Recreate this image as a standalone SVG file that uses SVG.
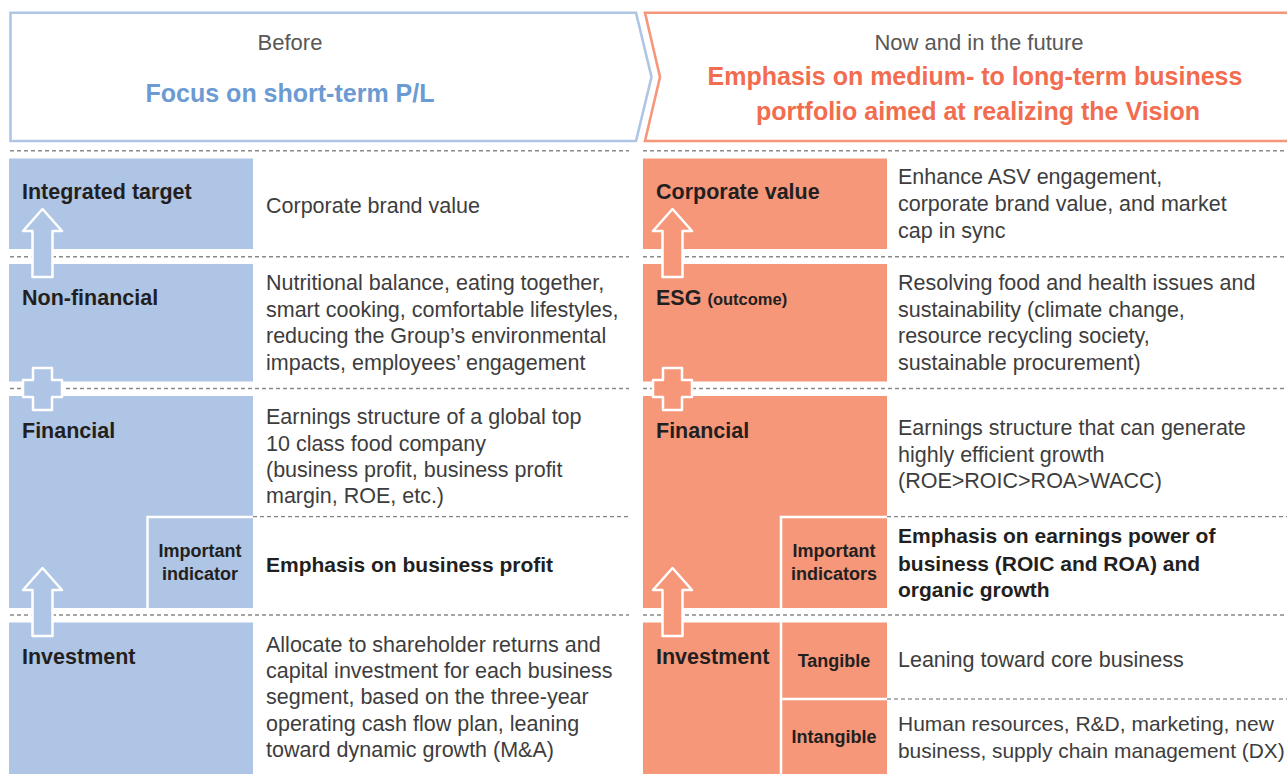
<svg xmlns="http://www.w3.org/2000/svg" width="1287" height="774" viewBox="0 0 1287 774">
<style>
text{font-family:"Liberation Sans",Arial,sans-serif}
.b{fill:#aec5e5}
.o{fill:#f6977a}
.lbl{font-size:21.5px;font-weight:bold;fill:#231f20}
.sm{font-size:18px;font-weight:bold;fill:#231f20;text-anchor:middle}
.body{font-size:21.5px;fill:#3d3d3d}
.bold{font-size:21px;font-weight:bold;fill:#231f20}
.sep{stroke:#8a8a8a;stroke-width:1.4;stroke-dasharray:4 3;fill:none}
.isep{stroke:#666;stroke-width:1;stroke-dasharray:4 3;fill:none}
.wl{stroke:#fff;stroke-width:2.5;fill:none}
.arr{stroke:#fff;stroke-width:2.5;stroke-linejoin:round}
</style>
<rect width="1287" height="774" fill="#fff"/>

<g id="header-before">
<polygon points="10.5,12.7 636,12.7 651.5,77 636,141 10.5,141" fill="#fff" stroke="#aec5e5" stroke-width="2.6"/>
<text x="290" y="50" text-anchor="middle" style="font-size:22px;fill:#595757">Before</text>
<text x="290" y="102" text-anchor="middle" style="font-size:25px;font-weight:bold;fill:#6b9bd2">Focus on short-term P/L</text>
</g>
<g id="header-now">
<polygon points="645,12.7 1295,12.7 1295,141 645,141 660,77" fill="#fff" stroke="#f6967a" stroke-width="2.6"/>
<text x="979" y="50" text-anchor="middle" style="font-size:22px;fill:#595757">Now and in the future</text>
<text x="975" y="85" text-anchor="middle" style="font-size:25px;font-weight:bold;fill:#f26c4f">Emphasis on medium- to long-term business</text>
<text x="978" y="120" text-anchor="middle" style="font-size:25px;font-weight:bold;fill:#f26c4f">portfolio aimed at realizing the Vision</text>
</g>

<g id="separators">
<path class="sep" d="M10 150.7H629M643 150.7H1287M10 256.7H629M643 256.7H1287M10 388.5H629M643 388.5H1287M10 615H629M643 615H1287"/>
<path class="isep" d="M253 516.7H629M887 516.7H1287M887 699H1287"/>
</g>

<g id="before-integrated">
<rect class="b" x="9" y="158.5" width="244" height="90.5"/>
<text class="lbl" x="22" y="199">Integrated target</text>
<text class="body" x="266" y="213">Corporate brand value</text>
</g>
<g id="before-nonfinancial">
<rect class="b" x="9" y="264" width="244" height="117.5"/>
<text class="lbl" x="22" y="305">Non-financial</text>
<text class="body" x="266" y="290">Nutritional balance, eating together,</text>
<text class="body" x="266" y="316.5">smart cooking, comfortable lifestyles,</text>
<text class="body" x="266" y="343">reducing the Group’s environmental</text>
<text class="body" x="266" y="369.5">impacts, employees’ engagement</text>
</g>
<g id="before-financial">
<rect class="b" x="9" y="396" width="244" height="212"/>
<path class="wl" d="M147.5 608V517H253"/>
<text class="lbl" x="22" y="438">Financial</text>
<text class="body" x="266" y="424.3">Earnings structure of a global top</text>
<text class="body" x="266" y="450.7">10 class food company</text>
<text class="body" x="266" y="476.7">(business profit, business profit</text>
<text class="body" x="266" y="503">margin, ROE, etc.)</text>
</g>
<g id="before-important">
<text class="sm" x="200" y="557">Important</text>
<text class="sm" x="200" y="580">indicator</text>
<text class="bold" x="266" y="571.5">Emphasis on business profit</text>
</g>
<g id="before-investment">
<rect class="b" x="9" y="622.5" width="244" height="152"/>
<text class="lbl" x="22" y="664.3">Investment</text>
<text class="body" x="266" y="651.7">Allocate to shareholder returns and</text>
<text class="body" x="266" y="678.2">capital investment for each business</text>
<text class="body" x="266" y="704.4">segment, based on the three-year</text>
<text class="body" x="266" y="730.7">operating cash flow plan, leaning</text>
<text class="body" x="266" y="757">toward dynamic growth (M&amp;A)</text>
</g>

<g id="now-corporate">
<rect class="o" x="643" y="158.5" width="244" height="90.5"/>
<text class="lbl" x="656" y="199">Corporate value</text>
<text class="body" x="898" y="184.3">Enhance ASV engagement,</text>
<text class="body" x="898" y="211.3">corporate brand value, and market</text>
<text class="body" x="898" y="237.7">cap in sync</text>
</g>
<g id="now-esg">
<rect class="o" x="643" y="264" width="244" height="117.5"/>
<text class="lbl" x="656" y="305">ESG <tspan style="font-size:16.5px">(outcome)</tspan></text>
<text class="body" x="898" y="290">Resolving food and health issues and</text>
<text class="body" x="898" y="316.6">sustainability (climate change,</text>
<text class="body" x="898" y="342.8">resource recycling society,</text>
<text class="body" x="898" y="369.7">sustainable procurement)</text>
</g>
<g id="now-financial">
<rect class="o" x="643" y="396" width="244" height="212"/>
<path class="wl" d="M781 608V517H887"/>
<text class="lbl" x="656" y="438">Financial</text>
<text class="body" x="898" y="435">Earnings structure that can generate</text>
<text class="body" x="898" y="461.5">highly efficient growth</text>
<text class="body" x="898" y="487.5">(ROE&gt;ROIC&gt;ROA&gt;WACC)</text>
</g>
<g id="now-important">
<text class="sm" x="834" y="557">Important</text>
<text class="sm" x="834" y="580">indicators</text>
<text class="bold" x="898" y="543.3">Emphasis on earnings power of</text>
<text class="bold" x="898" y="570.5">business (ROIC and ROA) and</text>
<text class="bold" x="898" y="596.7">organic growth</text>
</g>
<g id="now-investment">
<rect class="o" x="643" y="622.5" width="244" height="152"/>
<path class="wl" d="M781 622V774M781 699H887"/>
<text class="lbl" x="656" y="664.3">Investment</text>
</g>
<g id="now-tangible">
<text class="sm" x="834" y="666.7">Tangible</text>
<text class="body" x="898" y="666.7">Leaning toward core business</text>
</g>
<g id="now-intangible">
<text class="sm" x="834" y="742.7">Intangible</text>
<text class="body" x="898" y="731" style="font-size:21px">Human resources, R&amp;D, marketing, new</text>
<text class="body" x="898" y="758.3" style="font-size:20.9px">business, supply chain management (DX)</text>
</g>

<g id="connectors">
<polygon class="arr b" points="42.5,209 62,231 52.5,231 52.5,277 32.5,277 32.5,231 23,231"/>
<polygon class="arr b" points="33,368 52,368 52,380 62,380 62,397 52,397 52,410 33,410 33,397 23,397 23,380 33,380"/>
<polygon class="arr b" points="42.5,568 62,590 52.5,590 52.5,636 32.5,636 32.5,590 23,590"/>
<polygon class="arr o" points="672.5,209 692,231 682.5,231 682.5,277 662.5,277 662.5,231 653,231"/>
<polygon class="arr o" points="663,368 682,368 682,380 692,380 692,397 682,397 682,410 663,410 663,397 653,397 653,380 663,380"/>
<polygon class="arr o" points="672.5,568 692,590 682.5,590 682.5,636 662.5,636 662.5,590 653,590"/>
</g>
</svg>
